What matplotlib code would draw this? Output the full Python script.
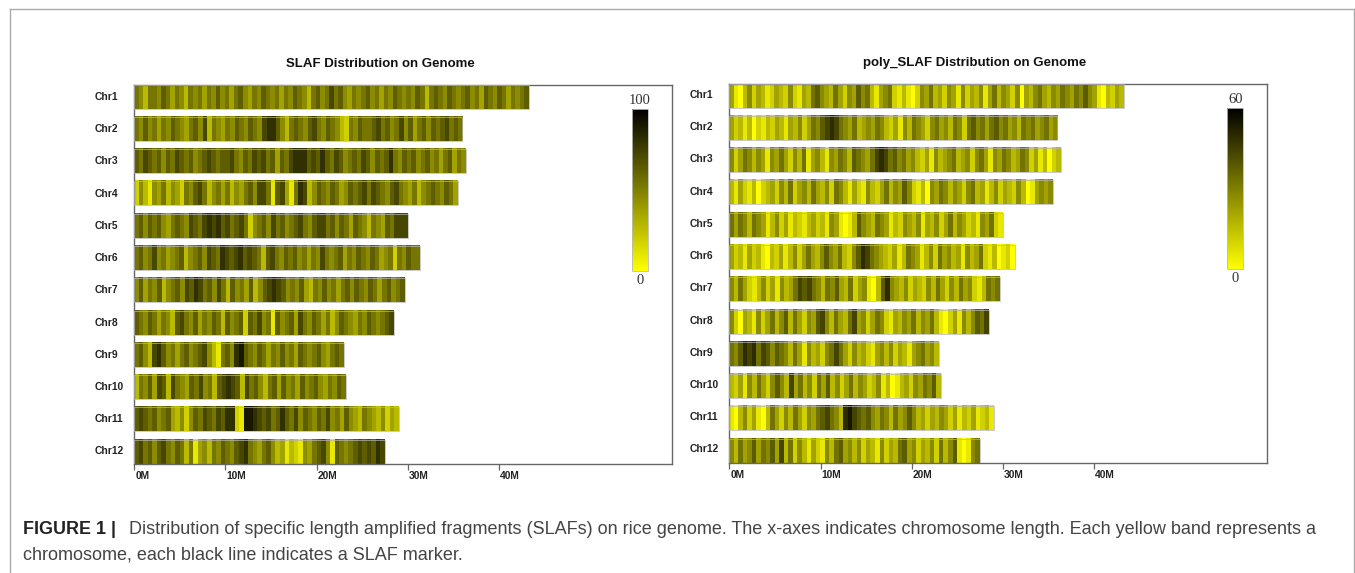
import matplotlib
matplotlib.use("Agg")
import matplotlib.pyplot as plt
import numpy as np
from matplotlib.colors import LinearSegmentedColormap
from matplotlib.cm import ScalarMappable
from matplotlib.colors import Normalize
from matplotlib.lines import Line2D

W, H = 1355, 573
chromosomes = [f"Chr{i}" for i in range(1, 13)]
lengths_mb = [43.3, 36.0, 36.4, 35.5, 30.0, 31.3, 29.7, 28.5, 23.0, 23.2, 29.0, 27.5]
tick_mb = [0, 10, 20, 30, 40]
tick_labels = ["0M", "10M", "20M", "30M", "40M"]

# Marker density per window along each chromosome,
# as levels multiplied by each panel's step to give values on its colour scale.
slaf = [
 [6,5,3,6,6,5,7,6,4,6,5,3,6,5,6,4,6,5,7,5,6,4,6,7,5,4,6,5,7,6,5,6,4,6,5,7,6,5,3,6,7,5,6,8,6,7,5,4,6,5,6,7,5,6,4,6,5,7,6,5,6,5,7,6,3,6,7,6,5,7,6,5,6,7,5,6,4,7,6,5,7,6,4,6,5,6,7],
 [6,5,7,5,6,4,6,5,7,6,5,4,6,7,5,8,3,6,5,4,6,5,7,6,5,7,6,5,8,9,9,7,5,3,6,7,6,5,7,8,6,5,7,6,5,3,2,6,5,7,6,6,7,8,6,7,5,6,8,5,7,4,6,7,5,7,6,7,8,6,7,6],
 [7,6,8,7,6,7,5,7,6,8,7,6,7,5,6,7,8,7,6,7,7,8,6,5,7,6,8,7,8,6,7,4,7,6,8,9,9,9,7,8,7,9,7,6,8,7,5,6,7,6,8,7,5,7,6,7,9,6,5,7,6,7,5,6,7,5,6,4,6,7,4,6,5],
 [2,5,3,1,5,4,6,3,5,4,2,6,5,7,8,6,3,5,6,4,6,3,5,4,6,7,5,8,8,6,1,7,8,4,1,6,9,8,3,5,7,6,5,7,6,4,5,7,6,7,8,6,8,7,6,5,7,8,6,5,4,6,3,5,6,7,6,5,7,6,4],
 [6,7,5,7,6,7,5,4,6,7,6,5,8,7,6,8,9,8,9,7,8,6,7,8,6,2,5,6,7,5,8,6,7,5,6,7,8,6,5,7,8,8,6,7,5,7,6,4,7,6,5,3,6,5,4,7,6,8,8,8],
 [6,7,5,6,8,5,6,4,5,6,7,3,5,6,7,5,8,7,6,9,8,7,8,9,7,8,7,6,3,7,8,6,5,7,6,7,5,6,4,6,5,8,6,5,6,7,4,6,5,7,6,5,7,6,4,5,6,2,6,5,7,6,6],
 [5,7,4,6,5,7,3,5,6,7,5,8,7,9,8,6,7,5,8,6,3,7,5,6,4,7,3,5,7,8,9,8,7,5,6,5,7,4,3,6,5,7,5,6,4,6,7,5,7,6,5,7,6,4,6,7,5,6,7],
 [7,6,5,7,6,4,6,5,3,7,8,6,5,7,4,6,5,7,6,3,7,5,6,7,2,7,6,8,5,6,1,7,5,6,7,4,8,6,5,7,6,4,6,3,5,7,6,5,4,6,5,7,6,5,6,7,8],
 [6,7,5,3,8,9,7,5,6,4,6,7,5,6,7,8,5,3,1,6,7,5,9,10,7,6,5,7,6,4,6,5,7,5,6,4,7,6,5,6,7,5,4,6,7,6],
 [3,6,5,7,4,8,7,3,8,6,5,4,7,6,8,5,6,3,7,8,9,8,7,3,8,6,7,5,3,6,7,4,7,5,6,4,7,5,6,7,5,4,6,5,7,6],
 [7,8,7,6,7,5,6,7,4,3,5,2,5,7,6,8,7,6,8,7,9,9,2,1,10,10,9,8,7,8,6,7,9,7,6,8,5,7,6,5,7,6,8,5,6,4,7,5,4,3,6,5,4,3,5,2,4,3],
 [7,8,6,7,5,7,8,6,5,7,6,3,6,1,4,5,3,6,5,7,6,5,7,8,9,6,5,4,6,7,5,3,4,1,3,2,1,5,4,6,7,8,5,1,7,6,5,6,7,8,7,8,7,9,8],
]
poly = [
 [4,1,0,3,5,2,4,3,1,2,4,3,2,5,2,1,4,3,6,7,5,4,3,6,4,2,5,4,7,5,6,3,1,4,5,6,2,1,3,1,0,2,5,4,6,3,4,2,5,4,1,5,2,4,3,5,1,4,6,3,5,4,2,5,0,4,3,5,6,4,3,5,4,6,5,4,6,5,7,5,4,1,0,3,2,4,3],
 [4,2,3,1,3,0,2,1,3,2,4,3,1,4,3,5,2,4,6,5,7,8,9,8,6,5,4,6,3,4,5,4,6,5,3,2,4,1,5,3,6,5,4,2,5,6,4,5,3,6,5,2,6,7,5,6,4,6,7,5,6,4,5,3,6,5,6,4,5,6,4,5],
 [5,2,4,6,5,3,5,4,1,5,4,6,4,2,5,3,6,1,4,5,3,1,5,4,6,5,3,7,6,5,4,6,8,9,8,6,7,5,6,4,5,3,2,4,1,5,3,4,5,6,3,4,5,2,5,6,4,1,5,4,6,5,3,4,6,5,2,4,1,3,0,2,3],
 [3,1,4,2,1,3,0,2,3,4,2,5,3,6,2,4,5,3,6,4,3,5,2,6,5,3,1,4,2,1,5,3,2,4,6,3,5,4,7,5,2,1,3,0,5,4,6,5,3,5,4,2,5,6,3,4,1,3,5,2,4,3,2,5,3,0,1,4,5,4,5],
 [6,4,6,5,3,6,5,4,1,3,5,2,4,1,3,2,1,3,4,2,3,1,5,4,1,0,1,3,7,5,4,3,6,5,4,1,3,2,5,4,3,5,1,4,3,5,2,4,6,3,5,4,2,3,1,5,4,6,2,1],
 [4,2,3,1,4,2,3,1,0,3,2,4,1,3,5,2,4,6,4,3,5,7,5,4,6,3,2,5,7,9,8,6,5,4,3,2,4,1,3,6,5,4,1,3,5,2,6,4,5,3,4,1,5,3,4,6,2,1,3,0,1,2,0],
 [5,3,6,4,2,1,3,5,2,4,1,5,3,4,6,8,7,8,6,5,3,6,5,7,4,3,6,2,4,5,1,0,3,7,9,5,4,3,5,2,4,3,2,5,3,6,4,2,5,3,6,4,5,2,1,3,6,5,6],
 [5,2,0,4,3,1,5,2,4,6,3,5,7,3,6,4,2,5,4,7,8,5,3,6,4,3,6,8,4,5,2,4,6,5,2,1,4,3,5,4,6,3,5,4,6,3,1,0,2,4,1,5,3,5,7,6,8],
 [6,5,7,9,8,9,6,8,7,5,7,6,5,3,6,4,1,5,3,4,2,5,6,8,6,4,2,5,3,4,2,1,4,5,3,5,2,4,3,1,4,5,6,4,5,3],
 [3,2,4,1,5,3,6,4,2,5,7,5,3,8,4,6,3,5,2,6,4,7,3,5,2,4,6,3,5,4,2,3,5,1,3,0,1,3,4,2,5,4,6,5,7,3],
 [1,0,3,5,2,4,1,0,3,6,4,2,5,3,6,4,2,5,4,6,7,8,6,5,3,9,10,8,7,6,7,5,4,6,5,3,6,4,5,7,5,3,4,2,4,3,5,4,2,4,1,3,2,4,1,2,3,1],
 [5,3,6,4,5,7,4,6,5,7,4,8,3,6,2,5,3,1,4,2,1,5,3,6,7,4,5,3,5,2,4,3,1,5,2,4,3,6,7,4,5,2,4,3,5,2,6,3,5,7,1,0,1,5,6],
]
slaf_max = 100
slaf_step = 9
poly_max = 60
poly_step = 5.5
title_left = "SLAF Distribution on Genome"
title_right = "poly_SLAF Distribution on Genome"
caption_bold = "FIGURE 1 |"
caption_1 = "Distribution of specific length amplified fragments (SLAFs) on rice genome. The x-axes indicates chromosome length. Each yellow band represents a"
caption_2 = "chromosome, each black line indicates a SLAF marker."

sans = "Liberation Sans"
cmap = LinearSegmentedColormap.from_list("yk", ["#FFFF00", "#000000"])
fig = plt.figure(figsize=(W / 100, H / 100), dpi=100, facecolor="white")


def px_axes(x0, y0, x1, y1):
    return fig.add_axes([x0 / W, 1 - y1 / H, (x1 - x0) / W, (y1 - y0) / H])


def px_text(x, y, s, **kw):
    return fig.text(x / W, 1 - y / H, s, va="center", **kw)


def panel(box, cbar_box, data, step, vmax, title, title_x, title_y, label_x, top_label, label_offset):
    ax = px_axes(*box)
    h = 24 / 32.2
    for i, (vals, length) in enumerate(zip(data, lengths_mb)):
        ax.imshow(np.array(vals, float)[None, :] * step, extent=(0, length, i + h / 2, i - h / 2),
                  aspect="auto", cmap=cmap, vmin=0, vmax=vmax, interpolation="nearest", zorder=2)
        ax.add_patch(plt.Rectangle((0, i - h / 2), length, h, fill=False, ec="#b5b5b5", lw=0.5, zorder=3))
    ax.set_xlim(0, 59.0)
    ax.set_ylim(11 + h / 2, -h / 2)
    ax.set_yticks([])
    ax.set_xticks(tick_mb)
    ax.set_xticklabels([])
    ax.tick_params(axis="x", length=4.5, width=0.9, color="#666666")
    for s in ax.spines.values():
        s.set_color("#666666")
        s.set_linewidth(1.0)
    x0, y0, x1, y1 = box
    pxmb = (x1 - x0) / 59.0
    for t, lab in zip(tick_mb, tick_labels):
        px_text(x0 + t * pxmb + 1, y1 + 12.5, lab, family=sans, fontsize=7.4, fontweight="bold",
                ha="left", color="#222222")
    for i, name in enumerate(chromosomes):
        px_text(label_x, y0 + 12.5 + i * 32.2 + label_offset, name, family=sans, fontsize=7.4,
                fontweight="bold", ha="left", color="#222222")
    px_text(title_x, title_y, title, family=sans, fontsize=9.5, fontweight="bold", ha="center", color="#111111")
    cax = px_axes(*cbar_box)
    cb = fig.colorbar(ScalarMappable(Normalize(0, vmax), cmap), cax=cax)
    cb.set_ticks([])
    cb.outline.set_edgecolor("#bbbbbb")
    cb.outline.set_linewidth(0.6)
    cx = (cbar_box[0] + cbar_box[2]) / 2
    px_text(cx, cbar_box[1] - 8.5, top_label, family="Liberation Serif", fontsize=10.5, ha="center", color="#333333")
    px_text(cx, cbar_box[3] + 9.5, "0", family="Liberation Serif", fontsize=10.5, ha="center", color="#333333")


panel((134.3, 84.6, 672, 463.7), (632, 109.3, 648.3, 270.7), slaf, slaf_step, slaf_max, title_left, 380, 64, 94.3, "100", 0)
panel((729.4, 83.6, 1267, 462.7), (1227, 108.3, 1243.3, 269.3), poly, poly_step, poly_max, title_right, 975, 63, 689.3, "60", -1)

# Outer figure frame (open at the bottom)
for xs, ys in [([9.5, 9.5], [573, 8.7]), ([9.5, 1354.3], [8.7, 8.7]), ([1354.3, 1354.3], [8.7, 573])]:
    fig.add_artist(Line2D([x / W for x in xs], [1 - y / H for y in ys], color="#aaaaaa", lw=1.0))

cap_kw = dict(family=sans, fontsize=12.9, color="#444444")
b = px_text(23.3, 529, caption_bold, fontweight="bold", **{**cap_kw, "color": "#222222"})
fig.canvas.draw()
bb = b.get_window_extent()
px_text(bb.x1 + 13, 529, caption_1, **{**cap_kw, "fontsize": 12.95})
px_text(23.3, 555, caption_2, **{**cap_kw, "fontsize": 12.95})

fig.savefig("out.png", dpi=100)
